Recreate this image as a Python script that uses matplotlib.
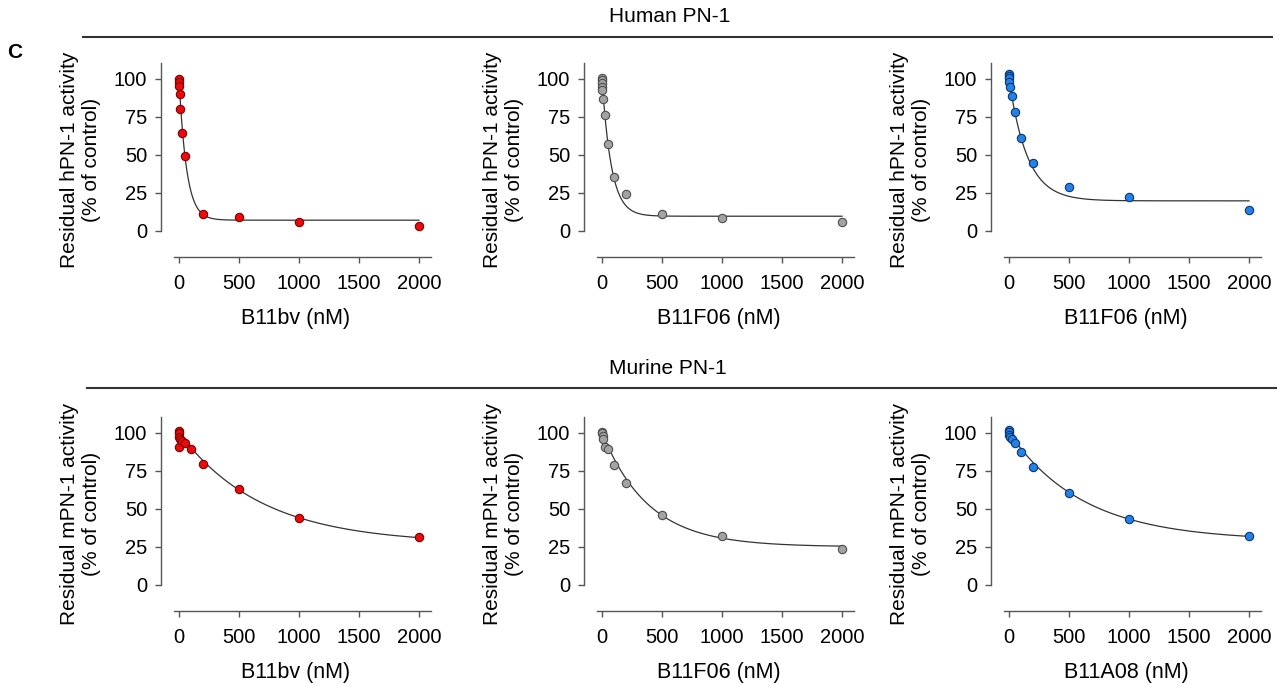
import numpy as np
import matplotlib
matplotlib.use('Agg')
import matplotlib.pyplot as plt

plt.rcParams['font.family'] = ['Liberation Sans', 'DejaVu Sans']

# ---- data (nM, % of control) ----
x_hum_b11bv = [0, 0, 1, 5, 10, 25, 50, 200, 500, 1000, 2000]
y_hum_b11bv = [99.5, 98, 95.2, 89.7, 80.3, 64, 49, 11.2, 9.4, 5.5, 3.5]

x_hum_f06_grey = [0, 0, 0.5, 1, 2.5, 10, 25, 50, 100, 200, 500, 1000, 2000]
y_hum_f06_grey = [100.4, 99, 97, 94.7, 92.5, 86.4, 76.3, 57, 35.7, 23.9, 11.2, 8.3, 5.7]

x_hum_f06_blue = [0, 0, 0, 0, 10, 25, 50, 100, 200, 500, 1000, 2000]
y_hum_f06_blue = [103, 101.8, 100.2, 98, 94.3, 88.8, 78, 61.2, 44.3, 28.7, 22.1, 13.8]

x_mur_b11bv = [0, 0, 0, 5, 0, 25, 50, 100, 200, 500, 1000, 2000]
y_mur_b11bv = [101, 99.6, 97.4, 95.6, 90.6, 94.5, 93.4, 89.1, 79.7, 63.3, 44.1, 31.2]

x_mur_f06 = [0, 0, 5, 10, 25, 50, 100, 200, 500, 1000, 2000]
y_mur_f06 = [100.7, 99.6, 98, 95.6, 90.6, 89.1, 78.8, 66.8, 45.6, 32.1, 23.6]

x_mur_a08 = [0, 0, 0, 5, 25, 50, 100, 200, 500, 1000, 2000]
y_mur_a08 = [101.5, 100.2, 98.5, 97.2, 95.9, 93.2, 87.3, 77.5, 60.5, 43.2, 32.1]

# one-phase decay fits (top, plateau, rate)
fit_top = [100, 100, 100, 100, 100, 100]
fit_plateau = [7, 9.6, 19.7, 27, 25, 29]
fit_rate = [0.016, 0.0129, 0.0066, 0.00145, 0.00258, 0.00161]

xlabels = ['B11bv (nM)', 'B11F06 (nM)', 'B11F06 (nM)',
           'B11bv (nM)', 'B11F06 (nM)', 'B11A08 (nM)']
ylabels = ['Residual hPN-1 activity\n(% of control)'] * 3 + \
          ['Residual mPN-1 activity\n(% of control)'] * 3
xs_all = [x_hum_b11bv, x_hum_f06_grey, x_hum_f06_blue, x_mur_b11bv, x_mur_f06, x_mur_a08]
ys_all = [y_hum_b11bv, y_hum_f06_grey, y_hum_f06_blue, y_mur_b11bv, y_mur_f06, y_mur_a08]

face = ['#ee0a0a', '#a3a3a3', '#2382e8'] * 2
edge = ['#7a0000', '#4d4d4d', '#0b3572'] * 2

W, H = 1286, 684
fig = plt.figure(figsize=(W / 100, H / 100), dpi=100)

lefts = [161, 584, 991]
tops = [63, 417]
aw, ah = 270, 194

for i in range(6):
    r, c = divmod(i, 3)
    ax = fig.add_axes([lefts[c] / W, 1 - (tops[r] + ah) / H, aw / W, ah / H])
    ax.set_xlim(-150, 2100)
    ax.set_ylim(-17.2, 110.3)

    xx = np.linspace(0, 2000, 400)
    yy = fit_plateau[i] + (fit_top[i] - fit_plateau[i]) * np.exp(-fit_rate[i] * xx)
    ax.plot(xx, yy, color='#333333', lw=0.9, zorder=2)
    ax.plot(xs_all[i], ys_all[i], 'o', ms=6, mfc=face[i], mec=edge[i], mew=0.8, zorder=3)

    for s in ['top', 'right']:
        ax.spines[s].set_visible(False)
    for s in ['left', 'bottom']:
        ax.spines[s].set_color('#555555')
        ax.spines[s].set_linewidth(1.0)
    ax.spines['left'].set_bounds(0, 110.3)
    ax.spines['bottom'].set_bounds(-42, 2100)

    ax.set_xticks([0, 500, 1000, 1500, 2000])
    ax.set_yticks([0, 25, 50, 75, 100])
    ax.tick_params(length=4, width=1.0, color='#555555', labelsize=14.5)
    ax.tick_params(axis='x', pad=8)
    ax.tick_params(axis='y', pad=6)
    ax.set_xlabel(xlabels[i], fontsize=15.5, labelpad=11)
    ax.set_ylabel(ylabels[i], fontsize=15, labelpad=9, linespacing=1.2)

# group headers
fig.add_artist(plt.Line2D([83 / W, 1272 / W], [1 - 37 / H, 1 - 37 / H], color='#333333', lw=1.5))
fig.add_artist(plt.Line2D([87 / W, 1276 / W], [1 - 388 / H, 1 - 388 / H], color='#333333', lw=1.5))
fig.text(670 / W, 1 - 17 / H, 'Human PN-1', ha='center', va='center', fontsize=15)
fig.text(668 / W, 1 - 369 / H, 'Murine PN-1', ha='center', va='center', fontsize=15)
fig.text(15 / W, 1 - 52 / H, 'C', ha='center', va='center', fontsize=15, fontweight='bold')

fig.savefig('out.png', dpi=100)
